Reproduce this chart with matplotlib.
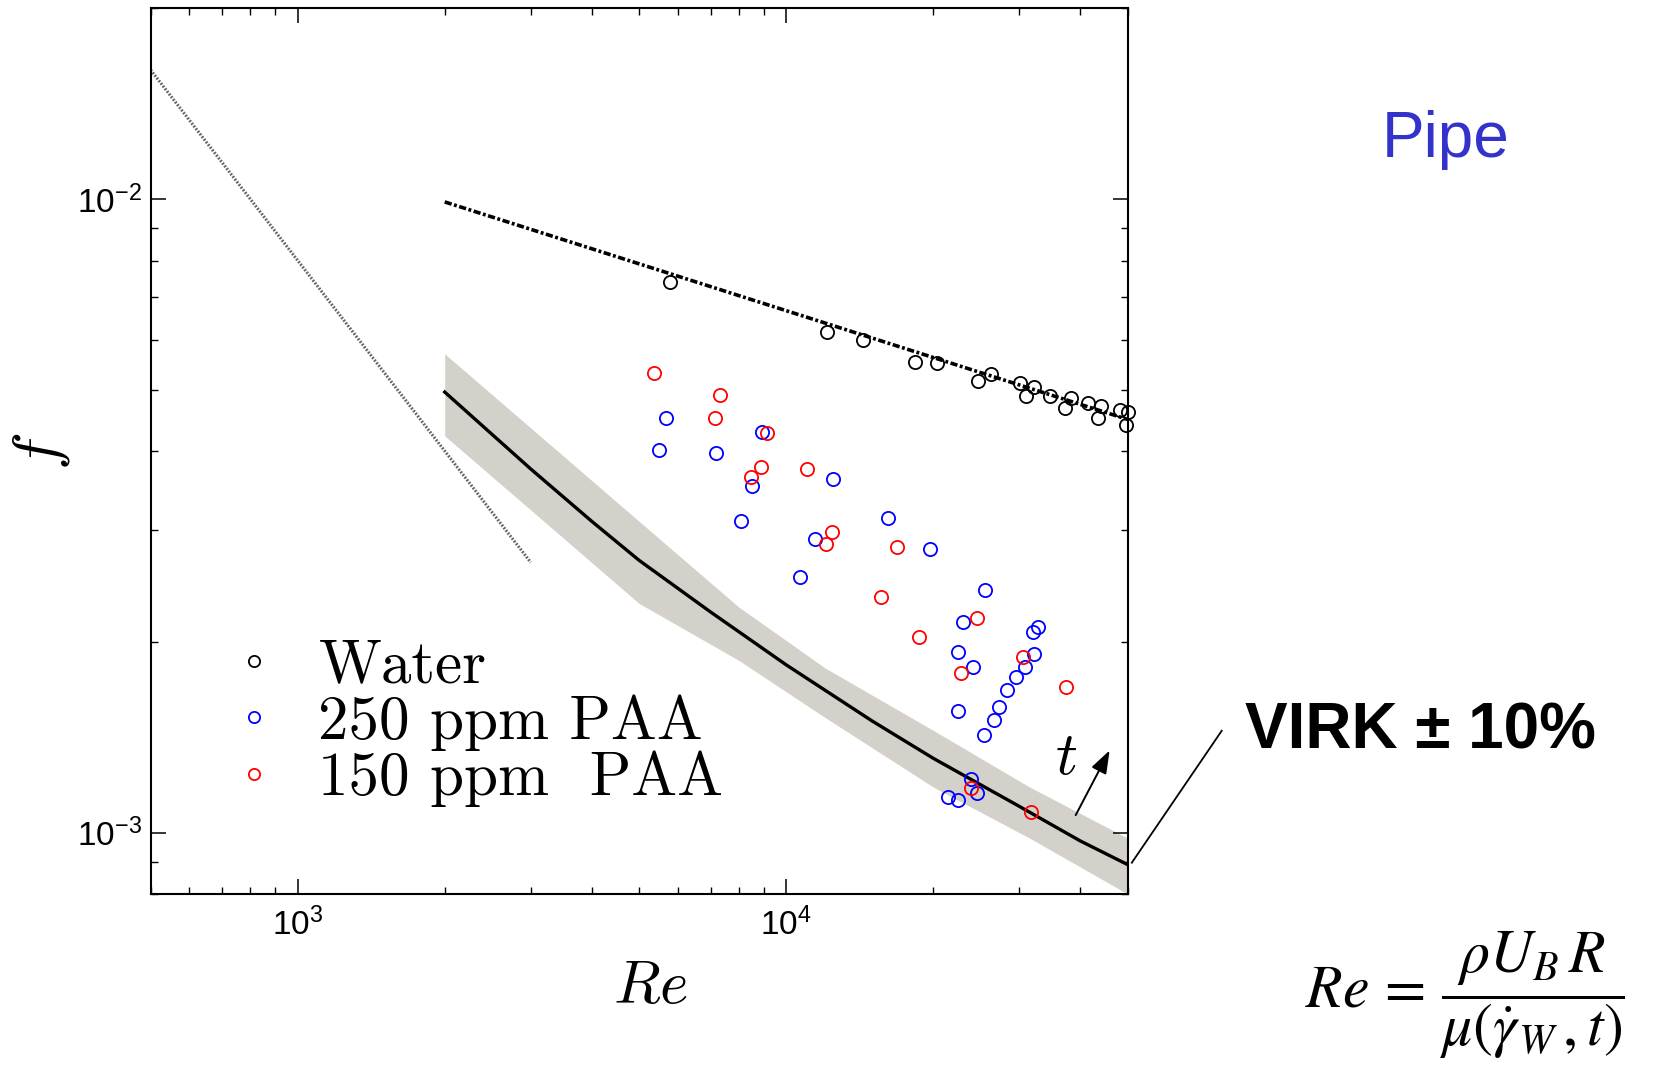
import matplotlib
matplotlib.use("Agg")
import matplotlib.pyplot as plt
from matplotlib.lines import Line2D
from matplotlib.ticker import LogLocator, NullFormatter

plt.rcParams['font.family'] = ['Liberation Sans', 'DejaVu Sans']

# friction factor vs Reynolds number, pipe flow
water_re = [5780, 12120, 14370, 18350, 20400, 24650, 26280, 30060, 30950, 32170,
            34710, 37130, 38270, 41510, 43430, 44180, 48300, 50000, 49700]
water_f = [0.00739, 0.00616, 0.00600, 0.00554, 0.00552, 0.00516, 0.00530, 0.00512, 0.00489, 0.00505,
           0.00489, 0.00468, 0.00486, 0.00477, 0.00452, 0.00471, 0.00465, 0.00461, 0.00440]

paa250_re = [5670, 5500, 7170, 8910, 8530, 8070, 12470, 11440, 10660, 16150,
             19730, 25500, 22980, 22500, 24160, 22500, 32750, 31930, 32190, 30800,
             29560, 28370, 27240, 26650, 25450, 23900, 24590, 21410, 22500]
paa250_f = [0.00451, 0.00402, 0.00397, 0.00429, 0.00353, 0.003106, 0.003618, 0.002906, 0.002536, 0.00314,
            0.00280, 0.002418, 0.002149, 0.001927, 0.001827, 0.001553, 0.002115, 0.002072, 0.001915, 0.001823,
            0.001758, 0.00168, 0.001576, 0.001508, 0.001426, 0.001217, 0.001156, 0.001137, 0.001126]

paa150_re = [5370, 7330, 7150, 9150, 8870, 8480, 11030, 12430, 12090, 16850,
             15650, 18720, 24620, 22770, 30510, 37430, 23930, 31770]
paa150_f = [0.00532, 0.00491, 0.00452, 0.00428, 0.00378, 0.00364, 0.00375, 0.00298, 0.00285, 0.00282,
            0.002355, 0.002037, 0.002185, 0.001788, 0.001892, 0.001698, 0.001174, 0.001076]

# turbulent Newtonian fit and laminar line
fit_re = [2000, 50000]
fit_f = [0.0099, 0.00449]
lam_re = [500, 3000]
lam_f = [0.016, 0.00267]

# Virk maximum drag reduction asymptote and its band
virk_re = [2000, 3000, 4000, 5000, 7000, 10000, 15000, 20000, 30000, 40000, 50000]
virk_f = [0.00496, 0.00375, 0.00310, 0.00269, 0.00223, 0.00184, 0.00150, 0.00131, 0.00110, 0.00097, 0.00089]
band_re = [2000, 5000, 8000, 12000, 20000, 31500, 50000]
band_hi = [0.00570, 0.00310, 0.00227, 0.00182, 0.00145, 0.00118, 0.00098]
band_lo = [0.00423, 0.00230, 0.00187, 0.00152, 0.00118, 0.00098, 0.00080]

fig = plt.figure(figsize=(16.62, 10.71), dpi=100)
ax = fig.add_axes([0.0906, 0.1653, 0.5879, 0.8268])

ax.fill_between(band_re, band_lo, band_hi, color='#d4d1ca', lw=0, zorder=1)
ax.plot(lam_re, lam_f, color='0.4', lw=2.2, ls=(0, (0.6, 0.5)), zorder=2)
ax.plot(virk_re, virk_f, color='k', lw=2.4, zorder=2)
ax.plot(fit_re, fit_f, color='k', lw=2.6, ls=(0, (2.0, 0.7, 0.8, 0.7)), zorder=2)

mk = dict(marker='o', ls='none', mfc='none', ms=9.5, mew=1.3, clip_on=False, zorder=3)
ax.plot(water_re, water_f, mec='k', label='Water', **mk)
ax.plot(paa250_re, paa250_f, mec='#0000ff', label='250 ppm PAA', **mk)
ax.plot(paa150_re, paa150_f, mec='#ff0000', label='150 ppm  PAA', **mk)

ax.set_xscale('log')
ax.set_yscale('log')
ax.set_xlim(500, 50000)
ax.set_ylim(8e-4, 2e-2)

ax.xaxis.set_minor_locator(LogLocator(base=10, subs=range(2, 10)))
ax.yaxis.set_minor_locator(LogLocator(base=10, subs=range(2, 10)))
ax.xaxis.set_minor_formatter(NullFormatter())
ax.yaxis.set_minor_formatter(NullFormatter())
ax.tick_params(which='both', direction='in', top=True, right=True, labelsize=24)
ax.tick_params(which='major', length=10.5, width=1.1)
ax.tick_params(which='minor', length=5, width=1.0)
ax.tick_params(axis='x', pad=10)
ax.tick_params(axis='y', pad=6)
for sp in ax.spines.values():
    sp.set_linewidth(1.5)

ax.set_xlabel(r'$Re$', fontsize=44, math_fontfamily='cm')
ax.xaxis.set_label_coords(0.5115, -0.073)
ax.set_ylabel(r'$f$', fontsize=46, math_fontfamily='cm')
ax.yaxis.set_label_coords(-0.08, 0.50)

leg = ax.legend(loc='upper left', bbox_to_anchor=(0.0748, 0.288), frameon=False,
                prop=dict(family='cmr10', size=44), borderpad=0, borderaxespad=0,
                handlelength=1.0, handletextpad=0.55, labelspacing=0.0, markerscale=0.85)

# drift with time
ax.annotate('', xy=(46200, 0.00136), xytext=(38900, 0.001056),
            arrowprops=dict(arrowstyle='-|>,head_length=0.7,head_width=0.25',
                            color='k', lw=1.4, mutation_scale=20))
ax.text(37440, 0.001309, r'$t$', fontsize=44, math_fontfamily='cm', ha='center', va='center')

fig.add_artist(Line2D([0.681, 0.7351], [0.1945, 0.3177], color='k', lw=1.3))
fig.text(0.8544, 0.317, 'VIRK ± 10%', fontsize=46, fontweight='bold', ha='center', va='center')
fig.text(0.870, 0.8537, 'Pipe', fontsize=46, color='#3333cc', ha='center', va='baseline')
fig.text(0.8815, 0.0715, r'$Re\,=\,\dfrac{\rho U_{B}\,R}{\mu\left(\dot{\gamma}_{W}\,,t\right)}$',
         fontsize=43, math_fontfamily='stix', ha='center', va='center')

fig.savefig('out.png', dpi=100)
